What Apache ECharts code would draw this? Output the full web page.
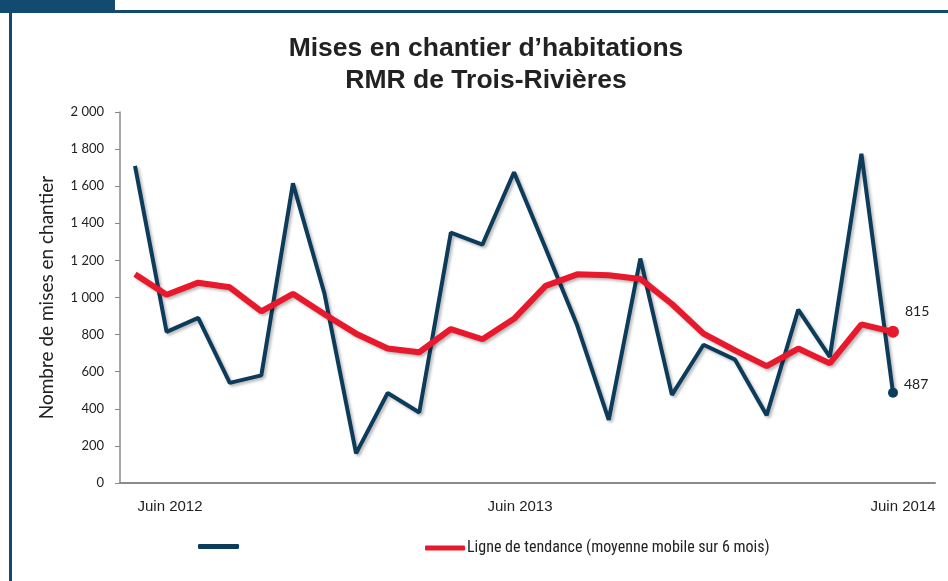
<!DOCTYPE html>
<html><head><meta charset="utf-8">
<script src="https://cdn.jsdelivr.net/npm/echarts@6/dist/echarts.min.js"></script>
<style>html,body{margin:0;padding:0;background:#fff}#c{width:948px;height:581px}</style>
</head><body><div id="c"></div>
<script>
const months = ['Juin 2012','Juil. 2012','Août 2012','Sept. 2012','Oct. 2012','Nov. 2012','Déc. 2012',
  'Janv. 2013','Févr. 2013','Mars 2013','Avr. 2013','Mai 2013','Juin 2013','Juil. 2013','Août 2013',
  'Sept. 2013','Oct. 2013','Nov. 2013','Déc. 2013','Janv. 2014','Févr. 2014','Mars 2014','Avr. 2014',
  'Mai 2014','Juin 2014'];
const tickMonths = [0, 12, 24];
const starts = [1710, 815, 890, 540, 580, 1615, 1020, 160, 485, 380, 1350, 1285, 1675, 1265, 850, 340, 1210, 475, 745, 665, 365, 935, 680, 1775, 487];
const trend = [1125, 1015, 1080, 1055, 925, 1020, 910, 805, 725, 705, 830, 775, 885, 1063, 1125, 1120, 1100, 965, 805, 715, 630, 725, 645, 855, 815];
const startsName = ' ';
const trendName = 'Ligne de tendance (moyenne mobile sur 6 mois)';

const FRAME = '#134a70';
const BLUE = '#0d3b5a';
const RED = '#e8192c';
const GILL = 'Lato, "Open Sans", sans-serif';

function mk(arr, color, size, lblOffset) {
  return arr.map((v, i) => {
    if (i !== arr.length - 1) return [i, v];
    return {
      value: [i, v], symbol: 'circle', symbolSize: size,
      itemStyle: {color: color},
      label: {show: true, position: 'right', distance: 10, offset: lblOffset,
        formatter: String(v), fontFamily: GILL, fontSize: 14, color: '#222'}
    };
  });
}

const chart = echarts.init(document.getElementById('c'));
const shadow = {shadowColor: 'rgba(0,0,0,0.28)', shadowBlur: 3, shadowOffsetX: 2, shadowOffsetY: 2};
chart.setOption({
  animation: false,
  title: {
    text: "Mises en chantier d’habitations\nRMR de Trois-Rivières",
    left: 481, top: 28, textAlign: 'center',
    textStyle: {fontFamily: '"Liberation Sans", Arial, sans-serif', fontWeight: 'bold', fontSize: 26.5, lineHeight: 32, color: '#222'}
  },
  graphic: [
    {type: 'rect', shape: {x: 0, y: 0, width: 115, height: 12}, style: {fill: FRAME}, silent: true},
    {type: 'rect', shape: {x: 0, y: 10, width: 948, height: 3}, style: {fill: FRAME}, silent: true},
    {type: 'rect', shape: {x: 9, y: 10, width: 3, height: 571}, style: {fill: FRAME}, silent: true}
  ],
  legend: [
    {data: [startsName], left: 198, top: 544, padding: 0, itemWidth: 41, itemHeight: 5, icon: 'roundRect',
     textStyle: {fontSize: 1}},
    {data: [trendName], left: 425, top: 540, padding: 0, itemWidth: 40, itemHeight: 5, icon: 'roundRect', itemGap: 2,
     textStyle: {fontFamily: '"Liberation Sans Narrow", "Roboto Condensed", sans-serif', fontSize: 16, color: '#222', padding: [0,0,0,-3]}}
  ],
  grid: {left: 120, right: 13, top: 112, bottom: 98},
  xAxis: {
    type: 'value', min: -0.475, max: 25.33,
    axisLine: {show: true, onZero: false, lineStyle: {color: '#8a8a8a', width: 2}},
    axisTick: {show: false},
    splitLine: {show: false},
    axisLabel: {
      customValues: tickMonths, margin: 16,
      formatter: function (v) {
        const i = Math.round(v);
        const key = i === 0 ? 'a' : (i === 24 ? 'c' : 'b');
        return '{' + key + '|' + months[i] + '}';
      },
      rich: {
        a: {padding: [0, 0, 0, 70], fontFamily: '"Liberation Sans Narrow", sans-serif', fontSize: 15, color: '#222'},
        b: {padding: [0, 0, 0, 12], fontFamily: '"Liberation Sans Narrow", sans-serif', fontSize: 15, color: '#222'},
        c: {padding: [0, 0, 0, 20], fontFamily: '"Liberation Sans Narrow", sans-serif', fontSize: 15, color: '#222'}
      }
    }
  },
  yAxis: {
    type: 'value', min: 0, max: 2000, interval: 200,
    name: 'Nombre de mises en chantier', nameLocation: 'middle', nameGap: 64, nameRotate: 90,
    nameTextStyle: {fontFamily: GILL, fontSize: 19, color: '#222'},
    axisLine: {show: true, onZero: false, lineStyle: {color: '#8a8a8a', width: 1.5}},
    axisTick: {show: true, length: 5, lineStyle: {color: '#8a8a8a'}},
    splitLine: {show: false},
    axisLabel: {
      fontFamily: GILL, fontSize: 13, color: '#222', margin: 16,
      formatter: function (v) {
        if (v < 1000) return String(v);
        return Math.floor(v / 1000) + ' ' + String(v % 1000).padStart(3, '0');
      }
    }
  },
  series: [
    {name: startsName, type: 'line', data: mk(starts, BLUE, 10, [-4, -8]), symbol: 'none', showSymbol: true,
     color: BLUE, lineStyle: Object.assign({color: BLUE, width: 4}, shadow), z: 2},
    {name: trendName, type: 'line', data: mk(trend, RED, 12, [-4, -20]), symbol: 'none', showSymbol: true,
     color: RED, lineStyle: Object.assign({color: RED, width: 6}, shadow), z: 3}
  ]
});
</script></body></html>
